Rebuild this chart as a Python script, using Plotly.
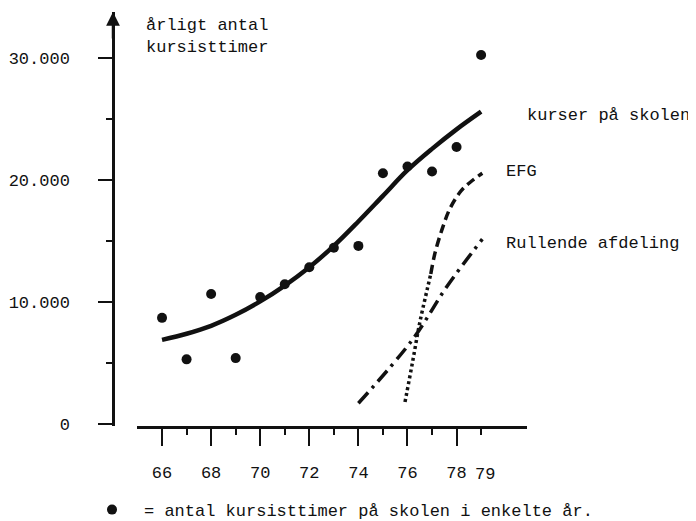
import plotly.graph_objects as go

# ---------------- data ----------------
years = [66, 67, 68, 69, 70, 71, 72, 73, 74, 75, 76, 77, 78, 79]
hours = [8700, 5300, 10650, 5400, 10400, 11450, 12850, 14450, 14600, 20550, 21100, 20700, 22700, 30250]
trend = [6900, 7400, 8050, 8950, 10050, 11350, 12850, 14600, 16600, 18700, 20800, 22550, 24150, 25600]

efg_dot_x = [75.9, 76.2, 76.5, 76.8, 76.95]
efg_dot_y = [1800, 5000, 8300, 11000, 12300]
efg_dash_x = [76.95, 77.12, 77.45, 77.74, 78.2, 78.67, 79.05]
efg_dash_y = [12300, 14000, 16200, 17700, 19150, 20000, 20550]

rull_x = [74.0, 76.2, 77.6, 79.05]
rull_y = [1700, 6900, 11250, 15150]

x_major = [66, 68, 70, 72, 74, 76, 78]
x_major_text = ["66", "68", "70", "72", "74", "76", "78"]
x_minor = [67, 69, 71, 73, 75, 77, 79]
x_extra_label = "79"

y_major = [0, 10000, 20000, 30000]
y_major_text = ["0", "10.000", "20.000", "30.000"]
y_minor = [5000, 15000, 25000]

y_title = "årligt antal<br>kursisttimer"
label_trend = "kurser på skolen"
label_efg = "EFG"
label_rull = "Rullende afdeling"
legend_text = "= antal kursisttimer på skolen i enkelte år."

# ---------------- figure ----------------
INK = "#111111"
FONT = "Liberation Mono, DejaVu Sans Mono, monospace"

fig = go.Figure()

fig.add_trace(go.Scatter(x=years, y=trend, mode="lines", line=dict(color=INK, width=4.5, shape="spline"),
                         showlegend=False, hoverinfo="skip"))
fig.add_trace(go.Scatter(x=efg_dot_x, y=efg_dot_y, mode="lines",
                         line=dict(color=INK, width=3.5, dash="3px,3px", shape="spline"),
                         showlegend=False, hoverinfo="skip"))
fig.add_trace(go.Scatter(x=efg_dash_x, y=efg_dash_y, mode="lines",
                         line=dict(color=INK, width=3.5, dash="9px,5px", shape="spline"),
                         showlegend=False, hoverinfo="skip"))
fig.add_trace(go.Scatter(x=rull_x, y=rull_y, mode="lines",
                         line=dict(color=INK, width=3.5, dash="14px,6px,3px,6px", shape="spline"),
                         showlegend=False, hoverinfo="skip"))
fig.add_trace(go.Scatter(x=years, y=hours, mode="markers", name=legend_text,
                         marker=dict(color=INK, size=10), cliponaxis=False))

fig.update_layout(
    width=696, height=521,
    margin=dict(l=92, r=104, t=4, b=103, autoexpand=False),
    paper_bgcolor="white", plot_bgcolor="white",
    font=dict(family=FONT, size=17, color=INK),
    showlegend=True,
    legend=dict(x=-0.04, y=-0.203, xanchor="left", yanchor="middle", orientation="h",
                bgcolor="rgba(0,0,0,0)", borderwidth=0, itemwidth=54,
                font=dict(family=FONT, size=17, color=INK)),
    xaxis=dict(domain=[0.074, 0.854], range=[64.98, 80.87],
               showline=True, linecolor=INK, linewidth=2.5,
               ticks="outside", ticklen=17, tickwidth=2, tickcolor=INK,
               tickmode="array", tickvals=x_major, ticktext=x_major_text,
               ticklabelstandoff=12,
               minor=dict(tickmode="array", tickvals=x_minor, ticks="outside", ticklen=6, tickwidth=2,
                          tickcolor=INK, showgrid=False),
               showgrid=False, zeroline=False, fixedrange=True),
    yaxis=dict(anchor="free", position=0.026, range=[-164, 33770],
               showline=True, linecolor=INK, linewidth=2.5,
               ticks="outside", ticklen=14, tickwidth=2, tickcolor=INK,
               tickmode="array", tickvals=y_major, ticktext=y_major_text,
               ticklabelstandoff=25,
               minor=dict(tickmode="array", tickvals=y_minor, ticks="outside", ticklen=6, tickwidth=2,
                          tickcolor=INK, showgrid=False),
               showgrid=False, zeroline=False, fixedrange=True),
)

annotations = [
    # arrow head on top of the y axis
    dict(xref="paper", yref="paper", x=0.026, y=1.0, ax=0, ay=28, axref="pixel", ayref="pixel",
         text="", showarrow=True, arrowhead=2, arrowsize=1.1, arrowwidth=2.5, arrowcolor=INK),
    dict(xref="paper", yref="paper", x=0.088, y=0.942, text=y_title, showarrow=False,
         xanchor="left", yanchor="middle", align="left"),
    dict(xref="paper", yref="paper", x=0.850, y=0.749, text=label_trend, showarrow=False,
         xanchor="left", yanchor="middle"),
    dict(xref="paper", yref="paper", x=0.808, y=0.614, text=label_efg, showarrow=False,
         xanchor="left", yanchor="middle"),
    dict(xref="paper", yref="paper", x=0.808, y=0.442, text=label_rull, showarrow=False,
         xanchor="left", yanchor="middle"),
    dict(xref="x", yref="paper", x=79.15, y=-0.116, text=x_extra_label, showarrow=False,
         xanchor="center", yanchor="middle"),
]
fig.update_layout(annotations=annotations)

fig.write_html("out.html")
